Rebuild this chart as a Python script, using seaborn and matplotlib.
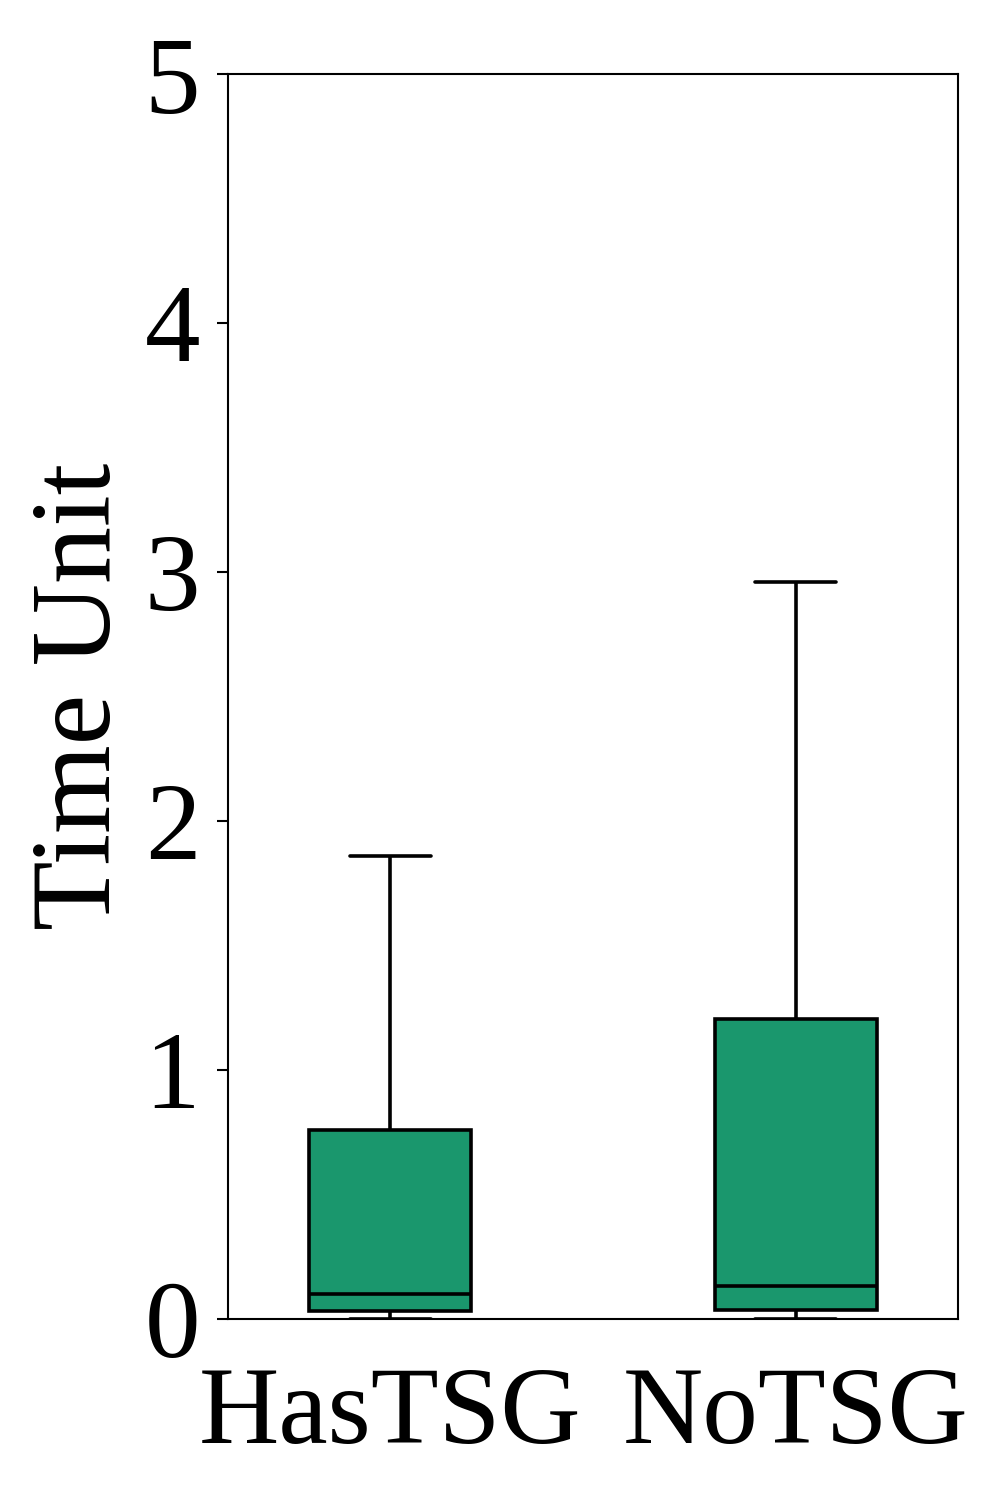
import numpy as np
import pandas as pd
import seaborn as sns
import matplotlib.pyplot as plt

# five-number summaries (min, q1, median, q3, max)
groups = ["HasTSG", "NoTSG"]
has_tsg = [0.0, 0.033, 0.102, 0.760, 1.858]
no_tsg = [0.0, 0.037, 0.134, 1.206, 2.962]
y_ticks = [0, 1, 2, 3, 4, 5]

df = pd.DataFrame({
    "group": [groups[0]] * len(has_tsg) + [groups[1]] * len(no_tsg),
    "Time Unit": has_tsg + no_tsg,
})

sns.set_style("ticks", rc={"text.color": "black", "axes.labelcolor": "black",
                           "xtick.color": "black", "ytick.color": "black",
                           "axes.edgecolor": "black"})
plt.rcParams["font.family"] = ["Liberation Serif", "DejaVu Serif"]

fig = plt.figure(figsize=(9.97, 14.95), dpi=100)
ax = fig.add_axes([0.2287, 0.1177, 0.9609 - 0.2287, 0.9503 - 0.1177])

sns.boxplot(data=df, x="group", y="Time Unit", ax=ax, color="#1a976d",
            saturation=1, width=0.4, whis=np.inf, linecolor="black",
            linewidth=2.6)

ax.set_xlim(-0.4, 1.4)
ax.set_ylim(0, 5)
ax.set_yticks(y_ticks)
ax.set_xlabel("")
ax.set_ylabel("Time Unit", fontsize=82, labelpad=8)
ax.tick_params(axis="y", labelsize=80, length=8, width=1.5, pad=12)
ax.tick_params(axis="x", labelsize=80, length=0, pad=34)
for s in ax.spines.values():
    s.set_visible(True)
    s.set_linewidth(1.5)
    s.set_color("black")

fig.savefig("out.png", dpi=100)
